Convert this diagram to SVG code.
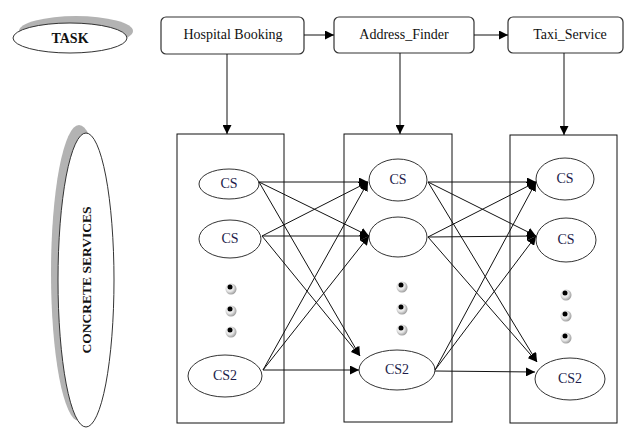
<svg xmlns="http://www.w3.org/2000/svg" width="629" height="428" viewBox="0 0 629 428" font-family="'Liberation Serif', 'DejaVu Serif', serif">
<style>
.box{fill:#fff;stroke:#333;stroke-width:1.2}
.col{fill:none;stroke:#111;stroke-width:1}
.el{fill:#fff;stroke:#333;stroke-width:1}
.sh{fill:#b3b3b3}
text{font-family:'Liberation Serif','DejaVu Serif',serif}
.t{font-size:14px;fill:#111;text-anchor:middle}
.cs{font-size:14px;fill:#1c1c4a;text-anchor:middle}
.b{font-weight:bold}
.c line{stroke:#111;stroke-width:1;marker-end:url(#ah)}
</style>
<defs>
<marker id="ah" viewBox="0 0 10 10" refX="10" refY="5" markerWidth="9" markerHeight="9" markerUnits="userSpaceOnUse" orient="auto">
<path d="M0,0 L10,5 L0,10 z" fill="#000"/>
</marker>
<radialGradient id="dg" cx="0.4" cy="0.4" r="0.6">
<stop offset="0" stop-color="#ffffff"/>
<stop offset="0.55" stop-color="#e6e6e6"/>
<stop offset="1" stop-color="#a0a0a0"/>
</radialGradient>
<g id="dt"><circle cx="1" cy="2" r="5.5" fill="url(#dg)"/><circle cx="0" cy="0" r="2.5" fill="#000"/></g>
</defs>
<rect width="629" height="428" fill="#fff"/>

<g id="task">
<ellipse class="sh" cx="76" cy="31" rx="57" ry="15"/>
<ellipse class="el" cx="70" cy="38" rx="57" ry="15"/>
<text class="t b" x="70" y="43" font-size="13">TASK</text>
</g>

<g id="concrete">
<ellipse class="sh" cx="79" cy="273" rx="28" ry="148"/>
<ellipse class="el" cx="86" cy="280" rx="28" ry="147"/>
<text class="t b" transform="translate(91,280) rotate(-90)" x="0" y="0" style="font-size:13.5px">CONCRETE  SERVICES</text>
</g>

<g id="hospital">
<rect class="box" x="161" y="17" width="143" height="37" rx="5"/>
<text class="t" x="233" y="39">Hospital Booking</text>
</g>
<g id="address">
<rect class="box" x="334" y="17" width="140" height="36" rx="5"/>
<text class="t" x="404" y="39">Address_Finder</text>
</g>
<g id="taxi">
<rect class="box" x="508" y="17" width="115" height="36" rx="5"/>
<text class="t" x="570" y="39">Taxi_Service</text>
</g>

<g id="col1">
<rect class="col" x="177" y="134" width="107" height="289"/>
<g id="c1a"><ellipse class="el" cx="229" cy="184" rx="30" ry="15"/><text class="cs" x="229" y="188">CS</text></g>
<g id="c1b"><ellipse class="el" cx="230" cy="239" rx="31" ry="19"/><text class="cs" x="230" y="243">CS</text></g>
<g class="dot"><use href="#dt" x="230" y="287"/><use href="#dt" x="230" y="309"/><use href="#dt" x="230" y="330"/></g>
<g id="c1c"><ellipse class="el" cx="225" cy="376" rx="37" ry="21"/><text class="cs" x="225" y="380">CS2</text></g>
</g>

<g id="col2">
<rect class="col" x="344" y="134" width="108" height="288"/>
<g id="c2a"><ellipse class="el" cx="398" cy="180" rx="29" ry="21"/><text class="cs" x="398" y="184">CS</text></g>
<g id="c2b"><ellipse class="el" cx="398" cy="237" rx="29" ry="20"/></g>
<g class="dot"><use href="#dt" x="401" y="285"/><use href="#dt" x="401" y="307"/><use href="#dt" x="401" y="328"/></g>
<g id="c2c"><ellipse class="el" cx="397" cy="370" rx="38" ry="20"/><text class="cs" x="397" y="374">CS2</text></g>
</g>

<g id="col3">
<rect class="col" x="510" y="135" width="107" height="288"/>
<g id="c3a"><ellipse class="el" cx="565" cy="179" rx="29" ry="21"/><text class="cs" x="565" y="183">CS</text></g>
<g id="c3b"><ellipse class="el" cx="566" cy="240" rx="30" ry="22"/><text class="cs" x="566" y="244">CS</text></g>
<g class="dot"><use href="#dt" x="565" y="293"/><use href="#dt" x="565" y="314"/><use href="#dt" x="565" y="336"/></g>
<g id="c3c"><ellipse class="el" cx="570" cy="379" rx="35" ry="21"/><text class="cs" x="570" y="383">CS2</text></g>
</g>

<g id="connectors" class="c">
<line x1="304" y1="35" x2="334" y2="35"/>
<line x1="474" y1="35" x2="508" y2="35"/>
<line x1="227" y1="54" x2="227" y2="134"/>
<line x1="400" y1="53" x2="400" y2="134"/>
<line x1="564" y1="53" x2="564" y2="135"/>

<line x1="259" y1="182" x2="368" y2="182"/>
<line x1="259" y1="182" x2="369" y2="236"/>
<line x1="259" y1="182" x2="360" y2="356"/>
<line x1="262" y1="236" x2="368" y2="182"/>
<line x1="262" y1="236" x2="369" y2="236"/>
<line x1="262" y1="236" x2="360" y2="356"/>
<line x1="263" y1="370" x2="368" y2="182"/>
<line x1="263" y1="370" x2="369" y2="236"/>
<line x1="263" y1="370" x2="359" y2="370"/>

<line x1="428" y1="182" x2="536" y2="182"/>
<line x1="428" y1="182" x2="536" y2="236"/>
<line x1="428" y1="182" x2="537" y2="362"/>
<line x1="428" y1="237" x2="536" y2="182"/>
<line x1="428" y1="237" x2="536" y2="236"/>
<line x1="428" y1="237" x2="537" y2="362"/>
<line x1="435" y1="370" x2="536" y2="182"/>
<line x1="435" y1="370" x2="536" y2="236"/>
<line x1="435" y1="371" x2="535" y2="372"/>
</g>
</svg>
